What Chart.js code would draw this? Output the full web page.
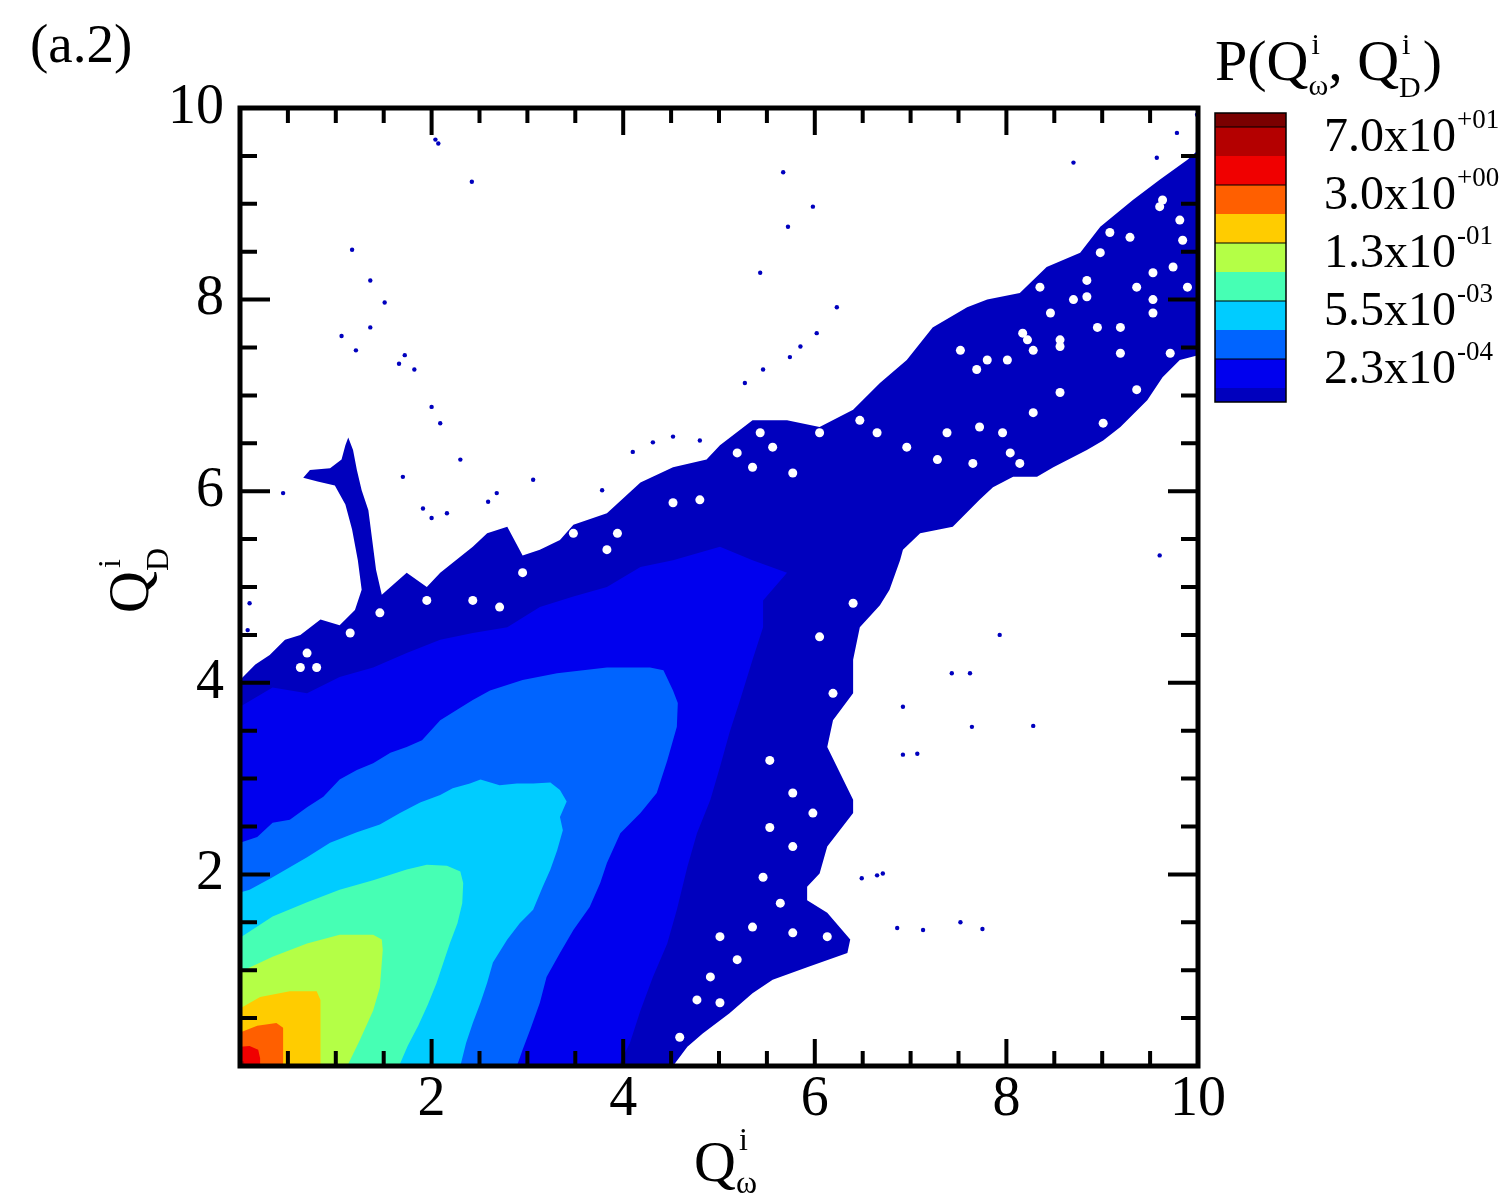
<!DOCTYPE html>
<html>
<head>
<meta charset="utf-8">
<script src="https://cdn.jsdelivr.net/npm/chart.js@4.4.1/dist/chart.umd.min.js"></script>
<style>
  html, body { margin: 0; padding: 0; background: #fff; }
  #wrap { width: 1500px; height: 1200px; position: relative; }
</style>
</head>
<body>
<div id="wrap"><canvas id="pdfChart"></canvas></div>
<script>
// outer edge of each contour band, as (Q_w, Q_D) pairs
const darkBlueEdge = [[0,4.03],[0.16,4.19],[0.31,4.29],[0.47,4.45],[0.63,4.50],[0.84,4.66],[1.04,4.60],[1.20,4.76],[1.27,4.97],[1.23,5.28],[1.17,5.60],[1.10,5.86],[0.99,6.06],[0.81,6.10],[0.66,6.14],[0.73,6.22],[0.94,6.24],[1.06,6.33],[1.10,6.48],[1.13,6.56],[1.18,6.43],[1.22,6.22],[1.27,6.01],[1.34,5.80],[1.38,5.49],[1.42,5.18],[1.48,4.92],[1.74,5.15],[1.95,5.00],[2.09,5.15],[2.43,5.42],[2.58,5.56],[2.79,5.63],[2.95,5.33],[3.13,5.39],[3.34,5.49],[3.48,5.65],[3.83,5.77],[4.18,6.09],[4.52,6.25],[4.87,6.33],[5.01,6.48],[5.35,6.74],[5.71,6.74],[6.05,6.67],[6.40,6.85],[6.68,7.13],[6.96,7.37],[7.23,7.71],[7.59,7.92],[7.80,8.00],[8.14,8.07],[8.42,8.34],[8.77,8.49],[8.98,8.76],[9.32,9.04],[9.60,9.25],[9.89,9.46],[10,9.56],[10,7.42],[9.81,7.37],[9.63,7.19],[9.47,6.95],[9.19,6.67],[9.01,6.53],[8.84,6.43],[8.49,6.25],[8.32,6.15],[8.07,6.15],[7.86,6.04],[7.72,5.91],[7.44,5.63],[7.10,5.56],[6.92,5.39],[6.89,5.28],[6.78,4.97],[6.68,4.81],[6.47,4.58],[6.40,4.24],[6.40,3.89],[6.19,3.61],[6.13,3.33],[6.40,2.78],[6.40,2.64],[6.13,2.29],[6.05,2.01],[5.92,1.87],[5.92,1.73],[6.13,1.60],[6.37,1.32],[6.34,1.18],[5.92,1.03],[5.56,0.90],[5.35,0.76],[5.11,0.55],[4.83,0.34],[4.67,0.20],[4.52,0],[0,0]];
const blueEdge = [[0,3.75],[0.34,3.95],[0.70,3.89],[1.04,4.06],[1.39,4.16],[1.74,4.31],[2.09,4.45],[2.43,4.52],[2.79,4.58],[3.13,4.79],[3.48,4.90],[3.83,5.00],[4.18,5.21],[4.52,5.28],[5.01,5.42],[5.35,5.28],[5.71,5.15],[5.46,4.86],[5.46,4.58],[5.35,4.24],[5.22,3.82],[5.11,3.48],[5.01,3.12],[4.91,2.78],[4.77,2.43],[4.67,2.08],[4.56,1.63],[4.46,1.28],[4.31,0.93],[4.18,0.58],[4.07,0.24],[3.95,0],[0,0]];
const mediumBlueEdge = [[0,2.33],[0.18,2.39],[0.34,2.54],[0.52,2.57],[0.70,2.70],[0.87,2.81],[1.04,2.99],[1.22,3.09],[1.39,3.16],[1.57,3.27],[1.74,3.33],[1.90,3.40],[2.09,3.61],[2.27,3.72],[2.43,3.82],[2.61,3.92],[2.95,4.03],[3.31,4.10],[3.83,4.16],[4.28,4.16],[4.42,4.13],[4.52,3.92],[4.57,3.79],[4.56,3.54],[4.46,3.19],[4.35,2.85],[4.18,2.64],[3.97,2.43],[3.83,2.12],[3.76,1.91],[3.65,1.66],[3.48,1.42],[3.34,1.18],[3.20,0.93],[3.13,0.66],[3.03,0.38],[2.95,0.17],[2.89,0],[0,0]];
const cyanEdge = [[0,1.81],[0.10,1.84],[0.34,1.97],[0.70,2.18],[0.94,2.33],[1.22,2.44],[1.46,2.52],[1.67,2.64],[1.88,2.75],[2.09,2.83],[2.22,2.90],[2.40,2.95],[2.51,2.99],[2.71,2.93],[2.89,2.95],[3.06,2.95],[3.24,2.96],[3.34,2.88],[3.41,2.76],[3.34,2.60],[3.37,2.46],[3.31,2.25],[3.24,2.05],[3.16,1.87],[3.06,1.63],[2.92,1.49],[2.79,1.32],[2.64,1.08],[2.58,0.87],[2.51,0.66],[2.43,0.45],[2.36,0.24],[2.30,0],[0,0]];
const aquaEdge = [[0,1.34],[0.34,1.56],[0.70,1.71],[1.04,1.84],[1.39,1.94],[1.74,2.05],[1.95,2.10],[2.16,2.09],[2.30,2.03],[2.33,1.91],[2.32,1.70],[2.27,1.49],[2.19,1.28],[2.12,1.07],[2.05,0.86],[1.96,0.64],[1.86,0.42],[1.75,0.21],[1.66,0],[0,0]];
const yellowGreenEdge = [[0,0.98],[0.34,1.14],[0.70,1.28],[1.04,1.37],[1.39,1.37],[1.48,1.32],[1.49,1.21],[1.46,0.82],[1.39,0.58],[1.25,0.27],[1.12,0],[0,0]];
const yellowEdge = [[0,0.60],[0.21,0.72],[0.52,0.78],[0.80,0.78],[0.84,0.69],[0.84,0],[0,0]];
const orangeEdge = [[0,0.35],[0.18,0.42],[0.38,0.45],[0.45,0.40],[0.45,0],[0,0]];
const redEdge = [[0,0.20],[0.10,0.21],[0.19,0.17],[0.21,0.08],[0.21,0],[0,0]];
const darkRedEdge = [[0,0.05],[0.04,0.05],[0.05,0],[0,0]];

// white gaps inside the outer band and isolated specks outside it
const holes = [[9.36,8.13],[8.95,7.71],[8.56,7.58],[7.52,7.47],[8.22,7.58],[9.08,8.70],[9.63,9.04],[9.81,8.83],[9.53,8.28],[9.19,7.44],[8.56,7.03],[8.28,6.82],[7.96,6.61],[7.65,6.29],[8.04,6.40],[7.28,6.33],[7.38,6.61],[6.96,6.46],[6.65,6.61],[6.47,6.74],[6.05,6.61],[5.56,6.46],[5.35,6.25],[5.19,6.40],[5.77,6.19],[5.43,6.61],[7.72,6.67],[7.80,7.37],[8.35,8.13],[8.84,8.03],[3.83,5.39],[2.95,5.15],[2.43,4.86],[1.95,4.86],[0.80,4.16],[0.70,4.31],[0.63,4.16],[1.15,4.52],[3.48,5.56],[3.94,5.56],[4.52,5.88],[4.80,5.91],[1.46,4.73],[2.71,4.79],[6.40,4.83],[6.05,4.48],[6.19,3.89],[5.53,3.19],[5.77,2.85],[5.98,2.64],[5.53,2.49],[5.77,2.29],[5.46,1.97],[5.64,1.70],[5.35,1.45],[5.77,1.39],[6.13,1.35],[5.01,1.35],[5.19,1.11],[4.91,0.93],[4.77,0.69],[5.01,0.66],[4.59,0.30],[9.53,8.00],[8.56,7.51],[8.28,7.47],[8.01,7.37],[7.69,7.27],[8.98,8.49],[9.74,8.34],[9.84,8.62],[9.60,8.97],[9.29,8.65],[8.70,8.00],[8.46,7.86],[8.17,7.65],[8.84,8.20],[9.89,8.13],[8.14,6.29],[9.01,6.71],[9.36,7.06],[9.71,7.44],[9.53,7.86],[9.19,7.71]];
const specks = [[2.00,6.88],[2.09,6.71],[1.70,6.15],[3.06,6.12],[4.10,6.41],[4.31,6.51],[4.52,6.57],[4.80,6.53],[3.78,6.01],[2.59,5.89],[2.16,5.77],[2.00,5.72],[1.91,5.82],[0.45,5.98],[0.10,4.83],[0.08,4.55],[2.30,6.33],[2.68,5.98],[5.98,8.97],[8.70,9.43],[6.23,7.92],[6.02,7.65],[5.85,7.51],[5.74,7.40],[5.46,7.27],[5.27,7.13],[5.67,9.33],[2.04,9.67],[1.36,8.20],[1.17,8.52],[1.51,7.97],[1.36,7.71],[1.06,7.62],[1.21,7.47],[1.72,7.42],[1.66,7.33],[1.82,7.27],[2.07,9.63],[2.42,9.23],[5.43,8.28],[5.72,8.76],[9.78,9.74],[9.57,9.48],[9.99,9.93],[9.60,5.33],[7.93,4.50],[7.62,4.10],[7.43,4.10],[6.92,3.75],[6.92,3.25],[7.07,3.26],[8.28,3.55],[7.64,3.54],[7.13,1.42],[7.52,1.50],[7.75,1.43],[6.86,1.44],[6.65,1.99],[6.49,1.96],[6.71,2.01]];

const xTickLabels = [2, 4, 6, 8, 10];
const yTickLabels = [2, 4, 6, 8, 10];
const minorStep = 0.5;
const majorStep = 2;

// colorbar, top band to bottom band, and the labelled levels
const bandColors = ['#7A0000', '#B40000', '#F00000', '#FF5F00', '#FFCC00', '#B4FF46', '#46FFB4', '#00CCFF', '#0064FF', '#0000EE', '#0000BE'];
const levelMantissa = ['7.0', '3.0', '1.3', '5.5', '2.3'];
const levelExponent = ['+01', '+00', '-01', '-03', '-04'];

const serif = "'Liberation Serif', 'Times New Roman', serif";

function band(points, color, order) {
  return {
    data: points.map(([x, y]) => ({ x, y })),
    showLine: true,
    fill: 'shape',
    backgroundColor: color,
    borderColor: 'transparent',
    borderWidth: 0,
    pointRadius: 0,
    tension: 0,
    order
  };
}

function dots(points, color, radius, order) {
  return {
    data: points.map(([x, y]) => ({ x, y })),
    showLine: false,
    pointRadius: radius,
    pointBackgroundColor: color,
    pointBorderWidth: 0,
    order
  };
}

// Q with superscript i and a subscript
function drawQ(ctx, sub, x, y, bigSize, smallSize, supDy, subDy) {
  ctx.font = bigSize + 'px ' + serif;
  ctx.fillText('Q', x, y);
  const w = ctx.measureText('Q').width;
  ctx.font = smallSize + 'px ' + serif;
  ctx.fillText('i', x + w + 3, y + supDy);
  ctx.fillText(sub, x + w, y + subDy);
  return x + w + Math.max(ctx.measureText('i').width + 3, ctx.measureText(sub).width);
}

const overlay = {
  id: 'overlay',
  afterDraw(chart) {
    const { ctx, chartArea: a, scales: { x, y } } = chart;
    ctx.save();

    // inward ticks on all four sides
    ctx.strokeStyle = '#000';
    ctx.lineWidth = 4;
    ctx.beginPath();
    const nx = Math.round((x.max - x.min) / minorStep);
    for (let i = 1; i < nx; i++) {
      const v = x.min + i * minorStep;
      const len = Math.abs(v / majorStep - Math.round(v / majorStep)) < 1e-9 ? 27 : 15;
      const px = x.getPixelForValue(v);
      ctx.moveTo(px, a.bottom); ctx.lineTo(px, a.bottom - len);
      ctx.moveTo(px, a.top); ctx.lineTo(px, a.top + len);
    }
    const ny = Math.round((y.max - y.min) / minorStep);
    for (let i = 1; i < ny; i++) {
      const v = y.min + i * minorStep;
      const len = Math.abs(v / majorStep - Math.round(v / majorStep)) < 1e-9 ? 30 : 17;
      const py = y.getPixelForValue(v);
      ctx.moveTo(a.left, py); ctx.lineTo(a.left + len, py);
      ctx.moveTo(a.right, py); ctx.lineTo(a.right - len, py);
    }
    ctx.stroke();
    ctx.lineWidth = 5;
    ctx.strokeRect(a.left, a.top, a.width, a.height);

    ctx.fillStyle = '#000';
    ctx.textBaseline = 'alphabetic';
    ctx.textAlign = 'left';

    // axis titles
    const cx = (a.left + a.right) / 2;
    drawQ(ctx, '\u03c9', cx - 25, a.bottom + 115, 58, 32, -31, 12);
    ctx.save();
    ctx.translate(a.left - 92, (a.top + a.bottom) / 2 + 26);
    ctx.rotate(-Math.PI / 2);
    drawQ(ctx, 'D', 0, 0, 58, 32, -28, 20);
    ctx.restore();

    // panel label
    ctx.font = '55px ' + serif;
    ctx.fillText('(a.2)', 30, 62);

    // colorbar
    const bx = a.right + 17, bw = 71, endH = 14, midH = 29;
    let by = a.top + 5;
    const top0 = by;
    const lines = [];
    bandColors.forEach((c, i) => {
      const h = (i === 0 || i === bandColors.length - 1) ? endH : midH;
      ctx.fillStyle = c;
      ctx.fillRect(bx, by, bw, h);
      by += h;
      if (i % 2 === 0 && i < bandColors.length - 1) lines.push(by);
    });
    ctx.strokeStyle = '#000';
    ctx.lineWidth = 1.5;
    ctx.strokeRect(bx, top0, bw, by - top0);
    ctx.lineWidth = 1.2;
    ctx.beginPath();
    lines.forEach(ly => { ctx.moveTo(bx, ly); ctx.lineTo(bx + bw, ly); });
    ctx.stroke();

    ctx.fillStyle = '#000';
    lines.forEach((ly, i) => {
      if (i >= levelMantissa.length) return;
      ctx.font = '48px ' + serif;
      const txt = levelMantissa[i] + 'x10';
      ctx.fillText(txt, bx + 109, ly + 24);
      const w = ctx.measureText(txt).width;
      ctx.font = '27px ' + serif;
      ctx.fillText(levelExponent[i], bx + 109 + w + 1, ly + 1);
    });

    // colorbar title P(Q^i_w, Q^i_D)
    let tx = bx;
    const tb = a.top - 28;
    ctx.font = '58px ' + serif;
    ctx.fillText('P(', tx, tb);
    tx += ctx.measureText('P(').width;
    tx = drawQ(ctx, '\u03c9', tx, tb, 58, 30, -26, 15);
    ctx.font = '58px ' + serif;
    ctx.fillText(', ', tx, tb);
    tx += ctx.measureText(', ').width;
    tx = drawQ(ctx, 'D', tx, tb, 58, 30, -26, 17);
    ctx.font = '58px ' + serif;
    ctx.fillText(')', tx + 2, tb);

    ctx.restore();
  }
};

new Chart(document.getElementById('pdfChart'), {
  type: 'scatter',
  data: {
    datasets: [
      band(darkRedEdge, bandColors[1], 0),
      band(redEdge, bandColors[2], 1),
      band(orangeEdge, bandColors[3], 2),
      band(yellowEdge, bandColors[4], 3),
      band(yellowGreenEdge, bandColors[5], 4),
      band(aquaEdge, bandColors[6], 5),
      band(cyanEdge, bandColors[7], 6),
      band(mediumBlueEdge, bandColors[8], 7),
      band(blueEdge, bandColors[9], 8),
      dots(holes, '#ffffff', 4.5, 9),
      band(darkBlueEdge, bandColors[10], 10),
      dots(specks, bandColors[10], 2.2, 11)
    ]
  },
  options: {
    responsive: true,
    maintainAspectRatio: false,
    animation: false,
    events: [],
    layout: { padding: { top: 108, right: 302, left: 0, bottom: 0 } },
    plugins: { legend: { display: false }, tooltip: { enabled: false } },
    scales: {
      x: {
        type: 'linear', min: 0, max: 10,
        grid: { display: false, drawTicks: false },
        border: { display: false },
        ticks: {
          stepSize: 2, padding: 1, color: '#000', autoSkip: false, maxRotation: 0,
          font: { family: serif, size: 56 },
          callback: v => xTickLabels.includes(v) ? String(v) : ''
        },
        afterFit: s => { s.height = 134; }
      },
      y: {
        type: 'linear', min: 0, max: 10,
        grid: { display: false, drawTicks: false },
        border: { display: false },
        ticks: {
          stepSize: 2, padding: 16, color: '#000', autoSkip: false,
          font: { family: serif, size: 56 },
          callback: v => yTickLabels.includes(v) ? String(v) : ''
        },
        afterFit: s => { s.width = 240; }
      }
    }
  },
  plugins: [overlay]
});
</script>
</body>
</html>
